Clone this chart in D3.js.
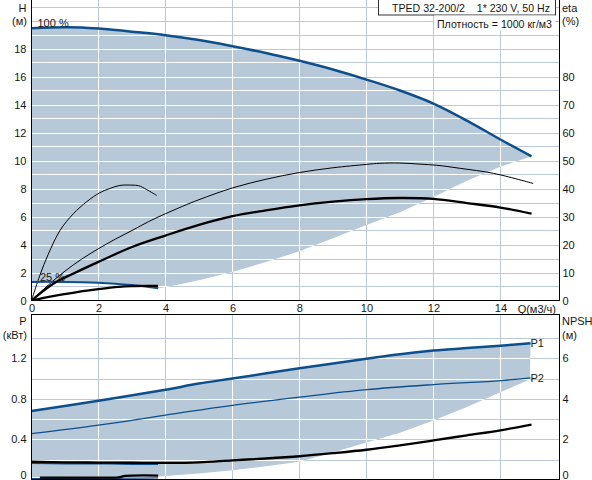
<!DOCTYPE html>
<html><head><meta charset="utf-8">
<script src="https://cdn.jsdelivr.net/npm/d3@7"></script>
<style>
body{margin:0;background:#fff}
svg{display:block}
text{font-family:"Liberation Sans",Arial,sans-serif;font-size:11px;fill:#161616}
</style>
</head><body>
<svg id="c" width="592" height="480"></svg>
<script>
// ---------- tick labels ----------
const qTicks = [0,2,4,6,8,10,12,14];
const hTicks = [0,2,4,6,8,10,12,14,16,18];
const etaTicks = [0,10,20,30,40,50,60,70,80];
const pTicks = [0,0.4,0.8,1.2];
const npshTicks = [0,2,4,6];
const hGrid = [1,2,3,4,5,6,7,8,9,10,11,12,13,14,15,16,17,18,19,20,21];
const qGrid = [2,4,6,8,10,12,14];
const pGrid = [0.2,0.4,0.6,0.8,1.0,1.2,1.4];

// ---------- top plot data (Q in m3/h) ----------
const qh100Q = [0,1,1.5,2,3,4,5,6,7,8,9,10,11,12,13,14,14.93];
const qh100H = [19.45,19.52,19.5,19.42,19.2,18.95,18.6,18.16,17.68,17.12,16.5,15.78,15.0,14.07,12.85,11.5,10.3];
const qh25Q = [0,1,1.5,2,2.5,3,3.5,3.78];
const qh25H = [1.33,1.33,1.31,1.27,1.2,1.1,0.97,0.88];
const limitQ = [3.78,4,5,6,7,8,9,10,11,12,13,14,14.93];
const limitH = [0.88,0.95,1.45,2.04,2.75,3.52,4.45,5.4,6.3,7.4,8.55,9.55,10.3];
// efficiency curves (%)
const etaThin100Q = [0,0.5,1,1.5,2,2.5,3,3.5,4,4.5,5,6,7,8,9,10,10.4,11,11.6,12.1,12.8,13.8,14.98];
const etaThin100V = [0,5.5,10.5,14.8,18.5,21.9,25,28.2,31,33.6,36,40.2,43.3,45.7,47.4,48.6,49,49.1,48.7,48.3,47.2,45.4,41.8];
const etaThick100Q = [0,0.65,1.3,2,3,4,5,6,7,8,9,10,11,12,13,14,14.93];
const etaThick100V = [0,6,9.9,13.8,19.1,23.2,27,30.1,32.2,34,35.3,36.2,36.6,36.3,34.8,33.2,31];
const etaThin25Q = [0,0.25,0.5,0.85,1.25,1.65,2.04,2.34,2.64,3,3.2,3.44,3.74];
const etaThin25V = [0,9,16.5,25,31,35.3,38.5,40,41.1,41.2,41,39.6,37.5];
const etaThick25Q = [0,0.4,0.8,1.4,2,2.6,3,3.5,3.78];
const etaThick25V = [0,1,1.9,3.1,4.05,4.85,5.15,5.25,5.25];

// ---------- bottom plot data ----------
const p1Q = [0,2,4,5,6,8,10,11,12,13,14,14.9];
const p1V = [0.68,0.78,0.89,0.95,1.0,1.10,1.195,1.24,1.275,1.30,1.323,1.347];
const p2Q = [0,2,4,6,8,10,12,14,14.9];
const p2V = [0.456,0.54,0.64,0.735,0.816,0.89,0.94,0.98,1.007];
const pLowQ = [0,3.78,4,5,6,7,8,9,10,11,12,13,14,14.88];
const pLowV = [0.03,0.035,0.04,0.065,0.095,0.135,0.18,0.27,0.37,0.465,0.585,0.72,0.865,0.99];
const p1m25Q = [0,1,2,3,3.78];
const p1m25V = [0.17,0.165,0.165,0.16,0.16];
const p2m25Q = [0,1,2,3,3.78];
const p2m25V = [0.013,0.014,0.016,0.018,0.02];
const npshQ = [0,1,2,3,4,5,6,7,8,9,10,11,12,13,14,14.93];
const npshV = [0.9,0.87,0.86,0.85,0.84,0.87,0.97,1.06,1.17,1.32,1.49,1.71,1.95,2.2,2.45,2.73];
const npsh25Q = [0.25,1,2,2.6,2.8,3.78];
const npsh25V = [0.12,0.12,0.12,0.13,0.2,0.22];

// ---------- scales ----------
const X0 = 31.5, X1 = 559.5;
const x = d3.scaleLinear().domain([0,15.75]).range([X0,559]);
const yH = d3.scaleLinear().domain([0,21]).range([300.5,6.5]);
const yEta = d3.scaleLinear().domain([0,105]).range([300.5,6.5]);
const yP = d3.scaleLinear().domain([0,1.6]).range([480,317.6]);
const yN = d3.scaleLinear().domain([0,8]).range([480,317.6]);

const FILL = "#b7c8d9", GRID = "#b9c9da", BLUE = "#0c4f8a";
const svg = d3.select("#c");
const defs = svg.append("defs");
defs.append("clipPath").attr("id","clipTop").append("rect").attr("x",X0).attr("y",0).attr("width",X1-X0).attr("height",300.5);
defs.append("clipPath").attr("id","clipBot").append("rect").attr("x",X0).attr("y",314.5).attr("width",X1-X0).attr("height",165.5);

const zip = (a,b) => a.map((v,i)=>[v,b[i]]);
const smooth = (ys) => d3.line().x(d=>x(d[0])).y(d=>ys(d[1])).curve(d3.curveCatmullRom.alpha(0.5));
const lin = (ys) => d3.line().x(d=>x(d[0])).y(d=>ys(d[1]));

// ================= TOP PLOT =================
const topG = svg.append("g").attr("clip-path","url(#clipTop)");
function grid(g, hVals, ys, yTop, yBot, color){
  g.selectAll(null).data(hVals).join("line")
    .attr("x1",X0).attr("x2",X1).attr("y1",d=>Math.round(ys(d))+0.5).attr("y2",d=>Math.round(ys(d))+0.5)
    .attr("stroke",color).attr("stroke-width",1);
  g.selectAll(null).data(qGrid).join("line")
    .attr("x1",d=>Math.round(x(d))+0.5).attr("x2",d=>Math.round(x(d))+0.5).attr("y1",yTop).attr("y2",yBot)
    .attr("stroke",color).attr("stroke-width",1);
}
grid(topG.append("g"), hGrid, yH, 0, 300, GRID);
const topPoly = zip(qh100Q,qh100H)
  .concat(zip(limitQ,limitH).reverse())
  .concat(zip(qh25Q,qh25H).reverse());
const topFillPath = lin(yH)(topPoly) + "Z";
topG.append("path").attr("d",topFillPath).attr("fill",FILL);
defs.append("clipPath").attr("id","clipTopFill").append("path").attr("d",topFillPath);
grid(topG.append("g").attr("clip-path","url(#clipTopFill)"), hGrid, yH, 0, 300, "#fff");

function curve(g, qs, vs, ys, color, w){
  g.append("path").attr("d",smooth(ys)(zip(qs,vs))).attr("fill","none")
    .attr("stroke",color).attr("stroke-width",w).attr("stroke-linejoin","round");
}
curve(topG, etaThin100Q, etaThin100V, yEta, "#000", 1);
curve(topG, etaThin25Q, etaThin25V, yEta, "#000", 1);
curve(topG, qh25Q, qh25H, yH, BLUE, 2);
curve(topG, etaThick100Q, etaThick100V, yEta, "#000", 2.3);
curve(topG, etaThick25Q, etaThick25V, yEta, "#000", 2.3);
curve(topG, qh100Q, qh100H, yH, BLUE, 2.5);

// frame of top plot
svg.append("line").attr("x1",X0).attr("x2",X0).attr("y1",0).attr("y2",301).attr("stroke","#000");
svg.append("line").attr("x1",X1).attr("x2",X1).attr("y1",0).attr("y2",301).attr("stroke","#000");
svg.append("line").attr("x1",X0).attr("x2",X1).attr("y1",300.5).attr("y2",300.5).attr("stroke","#000");

// curve labels
svg.append("text").attr("x",37.5).attr("y",27).text("100 %");
svg.append("text").attr("x",40).attr("y",281).text("25 %");

function styleAxis(g){
  g.select(".domain").remove();
  g.attr("font-family",null).attr("font-size",null);
  g.selectAll("text").attr("fill","#161616");
}
svg.append("g").attr("transform",`translate(${X0},0)`)
  .call(d3.axisLeft(yH).tickValues(hTicks).tickSize(0).tickPadding(5).tickFormat(d3.format("d")))
  .call(styleAxis);
svg.append("g").attr("transform",`translate(${X1},0)`)
  .call(d3.axisRight(yEta).tickValues(etaTicks).tickSize(0).tickPadding(3).tickFormat(d3.format("d")))
  .call(styleAxis);
svg.append("g").attr("transform",`translate(0,300.5)`)
  .call(d3.axisBottom(x).tickValues(qTicks).tickSize(0).tickPadding(4).tickFormat(d3.format("d")))
  .call(styleAxis);

svg.append("text").attr("x",26.5).attr("y",12).attr("text-anchor","end").text("H");
svg.append("text").attr("x",27).attr("y",25).attr("text-anchor","end").text("(м)");
svg.append("text").attr("x",562).attr("y",12).text("eta");
svg.append("text").attr("x",562).attr("y",25).text("(%)");
svg.append("text").attr("x",556).attr("y",313).attr("text-anchor","end").text("Q(м3/ч)");

// title boxes
svg.append("rect").attr("x",378.5).attr("y",-1).attr("width",177).attr("height",16).attr("fill","#fff").attr("stroke","#333");
svg.append("text").attr("x",392).attr("y",12).attr("xml:space","preserve")
  .attr("textLength",158).attr("lengthAdjust","spacingAndGlyphs").text("TPED 32-200/2    1* 230 V, 50 Hz");
svg.append("rect").attr("x",434).attr("y",15.5).attr("width",121).attr("height",15).attr("fill","#fff");
svg.append("text").attr("x",437).attr("y",28)
  .attr("textLength",115).attr("lengthAdjust","spacingAndGlyphs").text("Плотность = 1000 кг/м3");

// ================= BOTTOM PLOT =================
const botG = svg.append("g").attr("clip-path","url(#clipBot)");
grid(botG.append("g"), pGrid, yP, 314.5, 480, GRID);
const botPoly = zip(p1Q,p1V).concat(zip(pLowQ,pLowV).reverse());
const botFillPath = lin(yP)(botPoly) + "Z";
botG.append("path").attr("d",botFillPath).attr("fill",FILL);
defs.append("clipPath").attr("id","clipBotFill").append("path").attr("d",botFillPath);
grid(botG.append("g").attr("clip-path","url(#clipBotFill)"), pGrid, yP, 314.5, 480, "#fff");

curve(botG, p2m25Q, p2m25V, yP, BLUE, 1.2);
curve(botG, p1m25Q, p1m25V, yP, BLUE, 2.3);
curve(botG, npsh25Q, npsh25V, yN, "#000", 2.3);
curve(botG, npshQ, npshV, yN, "#000", 2.3);
curve(botG, p2Q, p2V, yP, BLUE, 1.3);
curve(botG, p1Q, p1V, yP, BLUE, 2.5);

svg.append("rect").attr("x",X0).attr("y",314.5).attr("width",X1-X0).attr("height",165)
  .attr("fill","none").attr("stroke","#000");

svg.append("text").attr("x",x(p1Q[p1Q.length-1])).attr("y",yP(p1V[p1V.length-1])+4).text("P1");
svg.append("text").attr("x",x(p2Q[p2Q.length-1])).attr("y",yP(p2V[p2V.length-1])+4).text("P2");

svg.append("g").attr("transform",`translate(${X0},0)`)
  .call(d3.axisLeft(yP).tickValues(pTicks).tickSize(0).tickPadding(5).tickFormat(d=>d===0?"0":d3.format(".1f")(d)))
  .call(styleAxis)
  .call(g=>g.selectAll(".tick").filter(d=>d===0).select("text").attr("y",-5));
svg.append("g").attr("transform",`translate(${X1},0)`)
  .call(d3.axisRight(yN).tickValues(npshTicks).tickSize(0).tickPadding(3).tickFormat(d3.format("d")))
  .call(styleAxis)
  .call(g=>g.selectAll(".tick").filter(d=>d===0).select("text").attr("y",-5));

svg.append("text").attr("x",26.5).attr("y",325).attr("text-anchor","end").text("P");
svg.append("text").attr("x",27).attr("y",339).attr("text-anchor","end").text("(кВт)");
svg.append("text").attr("x",562).attr("y",325).text("NPSH");
svg.append("text").attr("x",562).attr("y",339).text("(м)");
</script>
</body></html>
